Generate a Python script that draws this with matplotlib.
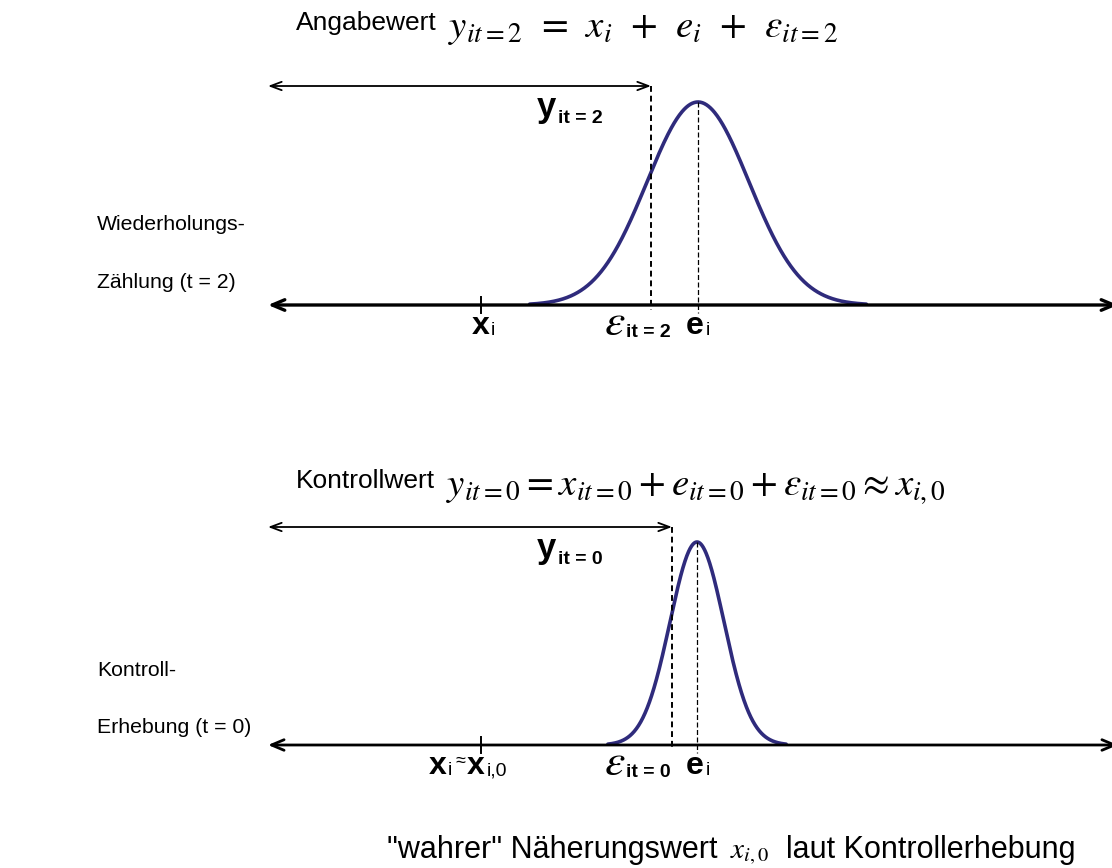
import numpy as np
import matplotlib
matplotlib.use("Agg")
import matplotlib.pyplot as plt

# ---- diagram values (data units = reference pixel grid) ----
axis_y = [305, 745]          # baseline of each number line
top_arrow_y = [86, 527]      # level of the y_it arrow
x_true = [481, 481]          # position of x_i
e_mean = [698, 697]          # position of e_i (centre of the distribution)
y_obs = [651, 672]           # observed value y_it (= x_i + e_i + eps)
sigma = [51, 27]             # spread of the response distribution
peak_h = [203, 203]          # height of the bell curve
eps_sub = ["it = 2", "it = 0"]
y_sub = ["it = 2", "it = 0"]
left_labels = [["Wiederholungs-", "Zählung (t = 2)"], ["Kontroll-", "Erhebung (t = 0)"]]
left_label_y = [[230, 288], [676, 733]]
titles = ["Angabewert", "Kontrollwert"]
title_y = [30, 488]
formula_y = [37, 495]
formulas = [r"$y_{it=2}\;\,=\;\,x_i\;\,+\;\,e_i\;\,+\;\,\varepsilon_{it=2}$",
            r"$y_{it=0} = x_{it=0} + e_{it=0} + \varepsilon_{it=0} \approx x_{i,0}$"]
caption = ['"wahrer" Näherungswert', r"$x_{i,0}$", "laut Kontrollerhebung"]

W, H = 1112, 868
fig = plt.figure(figsize=(W / 100, H / 100), dpi=100)
ax = fig.add_axes([0, 0, 1, 1])
ax.set_xlim(0, W)
ax.set_ylim(H, 0)
ax.axis("off")

SANS = "Liberation Sans"
curve_col = "#2f2b7c"


def sub_label(x, y, main, sub, main_size, sub_size, drop=2.0, gap=0.5,
              main_kw=None, sub_kw=None):
    main_kw = main_kw or {}
    sub_kw = sub_kw or {}
    t = ax.text(x, y, main, fontsize=main_size, va="baseline", ha="left", **main_kw)
    a = ax.annotate(sub, xy=(1, y), xycoords=(t, "data"), xytext=(gap, -drop),
                    textcoords="offset points", fontsize=sub_size, va="baseline",
                    ha="left", **sub_kw)
    return t, a


bold_main = dict(fontfamily=SANS, fontweight="bold")
bold_sub = dict(fontfamily=SANS, fontweight="bold")
plain_sub = dict(fontfamily=SANS)

for k in range(2):
    base = axis_y[k]
    # main number line with arrow heads on both ends
    ax.annotate("", xy=(268, base), xytext=(1118, base),
                arrowprops=dict(arrowstyle="<->,head_length=0.9,head_width=0.38",
                                lw=2.4 if k == 0 else 2.0, color="black",
                                shrinkA=0, shrinkB=0), annotation_clip=False)
    # arrow for y_it
    ax.annotate("", xy=(268, top_arrow_y[k]), xytext=(y_obs[k], top_arrow_y[k]),
                arrowprops=dict(arrowstyle="<->,head_length=0.8,head_width=0.3",
                                lw=1.3, color="black", shrinkA=0, shrinkB=0))
    # bell curve
    xs = np.linspace(e_mean[k] - 3.3 * sigma[k], e_mean[k] + 3.3 * sigma[k], 500)
    ys = base - peak_h[k] * np.exp(-0.5 * ((xs - e_mean[k]) / sigma[k]) ** 2)
    ax.plot(xs, ys, color=curve_col, lw=2.6, solid_capstyle="round")
    # dashed line at observed value
    ax.plot([y_obs[k], y_obs[k]], [top_arrow_y[k], base + 5], color="black", lw=1.4,
            ls=(0, (3, 2)))
    # dashed line at e_i
    ax.plot([e_mean[k], e_mean[k]], [base - peak_h[k], base + 8], color="black", lw=0.9,
            ls=(0, (4, 2)))
    # tick at x_i
    ax.plot([x_true[k], x_true[k]], [base - 8, base + 8], color="black", lw=1.4)

    # label y_it
    sub_label(537, top_arrow_y[k] + 31, "y", y_sub[k], 25, 14, drop=4.5, gap=1,
              main_kw=bold_main, sub_kw=bold_sub)
    # label epsilon
    sub_label(604, base + 30, r"$\varepsilon$", eps_sub[k], 33, 14, drop=1.5, gap=0,
              main_kw=dict(math_fontfamily="stix"), sub_kw=bold_sub)
    # label e_i
    sub_label(686, base + 29, "e", "i", 23, 14, drop=1, gap=1,
              main_kw=bold_main, sub_kw=plain_sub)

    # left labels
    for line, ly in zip(left_labels[k], left_label_y[k]):
        ax.text(97, ly, line, fontsize=15.3, fontfamily=SANS, va="baseline", ha="left")

    # titles
    tt = ax.text(296, title_y[k], titles[k], fontsize=19, fontfamily=SANS,
                 va="baseline", ha="left")
    ax.annotate(formulas[k], xy=(1, formula_y[k]), xycoords=(tt, "data"),
                xytext=(8, 0), textcoords="offset points", fontsize=28,
                math_fontfamily="stix", va="baseline", ha="left")

# x_i labels
sub_label(472, 334, "x", "i", 23, 14, drop=1, gap=1,
          main_kw=bold_main, sub_kw=plain_sub)
t1, a1 = sub_label(429, 774, "x", "i", 23, 14, drop=1, gap=1,
                   main_kw=bold_main, sub_kw=plain_sub)
a2 = ax.annotate("≈", xy=(1, 766), xycoords=(a1, "data"), xytext=(2, 0),
                 textcoords="offset points", fontsize=13, fontfamily=SANS,
                 va="baseline", ha="left")
t3 = ax.annotate("x", xy=(1, 774), xycoords=(a2, "data"), xytext=(1.5, 0),
                 textcoords="offset points", fontsize=23, va="baseline", ha="left",
                 **bold_main)
ax.annotate("i,0", xy=(1, 774), xycoords=(t3, "data"), xytext=(1, -1),
            textcoords="offset points", fontsize=14, va="baseline", ha="left",
            **plain_sub)

# bottom caption
c1 = ax.text(387, 858, caption[0], fontsize=22, fontfamily=SANS, va="baseline", ha="left")
c2 = ax.annotate(caption[1], xy=(1, 858), xycoords=(c1, "data"), xytext=(9, 0),
                 textcoords="offset points", fontsize=21, math_fontfamily="stix",
                 va="baseline", ha="left")
ax.annotate(caption[2], xy=(1, 858), xycoords=(c2, "data"), xytext=(12, 0),
            textcoords="offset points", fontsize=22, fontfamily=SANS,
            va="baseline", ha="left")

fig.savefig("out.png", dpi=100)
